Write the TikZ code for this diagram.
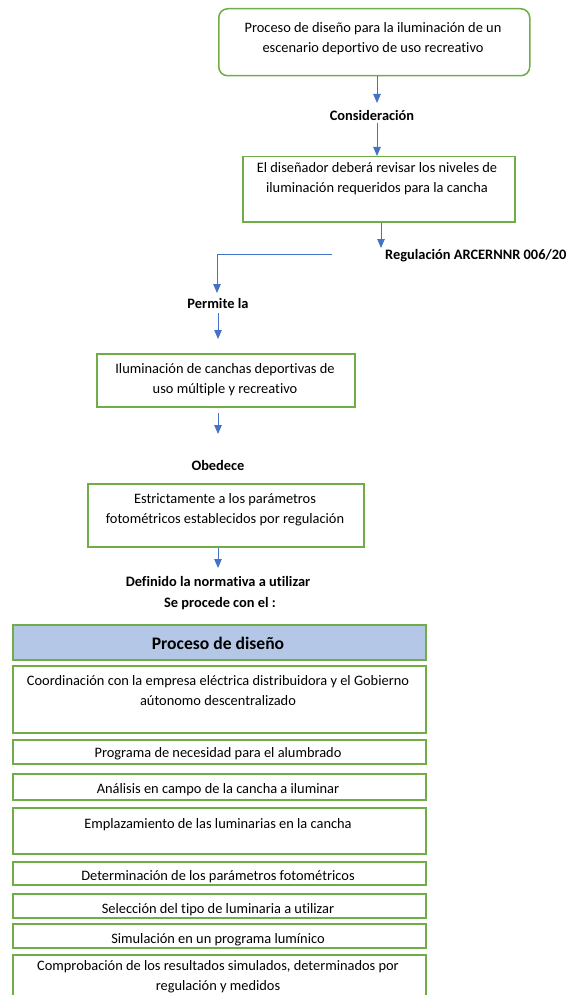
\documentclass[tikz,border=0pt]{standalone}
\usepackage{fontspec}
\setmainfont[Ligatures=NoCommon]{Carlito}
\usetikzlibrary{arrows.meta}
\definecolor{boxgreen}{HTML}{70AD47}
\definecolor{flowblue}{HTML}{4472C4}
\definecolor{headblue}{HTML}{B4C7E7}
\tikzset{
  x=1pt, y=-1pt,
  every node/.style={font=\fontsize{14.4}{20}\selectfont, inner sep=0pt},
  greenbox/.style={draw=boxgreen, line width=1.5pt, minimum width=#1, anchor=north west},
  greenbox/.default=413pt,
  txt/.style={align=center, yshift=-1.5pt},
  lbl/.style={font=\fontsize{14.4}{20}\selectfont\bfseries, yshift=-1pt},
  flow/.style={draw=flowblue, line width=0.9pt, -{Triangle[width=7.5pt,length=9pt]}}
}
\begin{document}
\begin{tikzpicture}
\useasboundingbox (0,0) rectangle (566,995);
\clip (0,0) rectangle (566,995);

% upper chain
\node[greenbox=311pt, rounded corners=9pt, minimum height=67pt] (top) at (218,8) {};
\node[txt] (toptxt) at (373,37) {Proceso de diseño para la iluminación de un\\escenario deportivo de uso recreativo};

\node[lbl] (cons) at (372,115) {Consideración};

\node[greenbox=272pt, minimum height=65pt] (rev) at (242,156) {};
\node[txt] (revtxt) at (377,177.5) {El diseñador deberá revisar los niveles de\\iluminación requeridos para la cancha};

\node[lbl, anchor=west] (reg) at (385,255) {Regulación ARCERNNR 006/20};
\node[lbl] (perm) at (218,302) {Permite la};

\node[greenbox=258pt, minimum height=53pt] (ilum) at (96,353) {};
\node[txt] (ilumtxt) at (225,378) {Iluminación de canchas deportivas de\\uso múltiple y recreativo};

\node[lbl] (obe) at (218,464) {Obedece};

\node[greenbox=276pt, minimum height=63pt] (estr) at (87,483) {};
\node[txt] (estrtxt) at (225,508) {Estrictamente a los parámetros\\fotométricos establecidos por regulación};

\node[lbl] (def) at (218,580) {Definido la normativa a utilizar};
\node[lbl] (proc) at (220,603) {Se procede con el :};

% connectors
\coordinate (c1) at (377,103);
\coordinate (c2) at (377,123);
\coordinate (c3) at (381,248);
\coordinate (c4) at (332,254);
\coordinate (c5) at (217,254);
\coordinate (c6) at (217,293);
\coordinate (c7) at (218,313);
\coordinate (c8) at (218,339);
\coordinate (c9) at (218,413);
\coordinate (c10) at (218,434);
\coordinate (c11) at (218,568);

\draw[flow] (top.south -| c1) -- (c1);
\draw[flow] (c2) -- (c2 |- rev.north);
\draw[flow] (rev.south -| c3) -- (c3);
\draw[flow] (c4) -- (c5) -- (c6);
\draw[flow] (c7) -- (c8);
\draw[flow] (c9) -- (c10);
\draw[flow] (estr.south -| c11) -- (c11);

% design process list
\node[greenbox, fill=headblue, minimum height=35pt] (head) at (12,624) {};
\node[font=\fontsize{17.6}{20}\selectfont\bfseries, yshift=-1pt] (headtxt) at (218,642) {Proceso de diseño};

\node[greenbox, minimum height=67pt] (s1) at (12,665) {};
\node[txt] (s1txt) at (218,689) {Coordinación con la empresa eléctrica distribuidora y el Gobierno\\aútonomo descentralizado};

\node[greenbox, minimum height=24pt] (s2) at (12,739) {};
\node[txt] (s2txt) at (218,752) {Programa de necesidad para el alumbrado};

\node[greenbox, minimum height=26pt] (s3) at (12,773) {};
\node[txt] (s3txt) at (218,788) {Análisis en campo de la cancha a iluminar};

\node[greenbox, minimum height=46pt] (s4) at (12,807) {};
\node[txt] (s4txt) at (218,823) {Emplazamiento de las luminarias en la cancha};

\node[greenbox, minimum height=23pt] (s5) at (12,861) {};
\node[txt] (s5txt) at (218,875) {Determinación de los parámetros fotométricos};

\node[greenbox, minimum height=24pt] (s6) at (12,893) {};
\node[txt] (s6txt) at (218,908) {Selección del tipo de luminaria a utilizar};

\node[greenbox, minimum height=24pt] (s7) at (12,923) {};
\node[txt] (s7txt) at (218,938) {Simulación en un programa lumínico};

\node[greenbox, minimum height=60pt] (s8) at (12,954) {};
\node[align=center] (s8txt) at (218,977) {Comprobación de los resultados simulados, determinados por\\regulación y medidos};
\end{tikzpicture}
\end{document}
